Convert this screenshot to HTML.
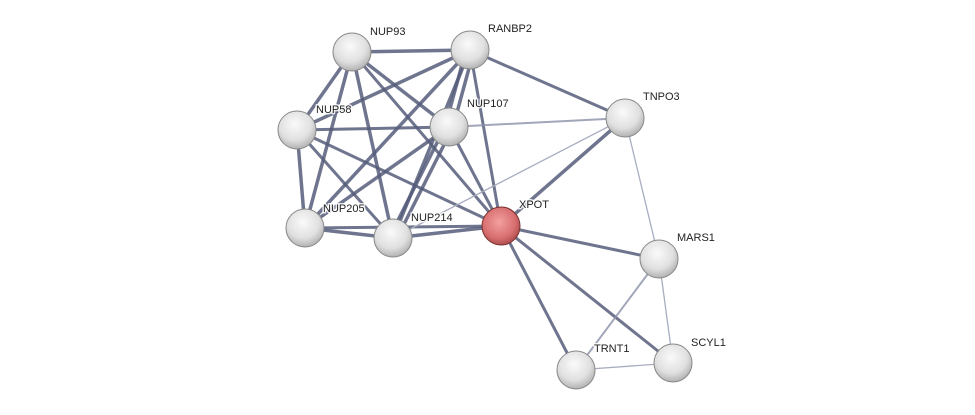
<!DOCTYPE html>
<html><head><meta charset="utf-8"><style>body{margin:0;background:#fff}svg{display:block}text{font-family:"Liberation Sans",sans-serif;font-size:11px;fill:#222;stroke:#fff;stroke-width:3px;stroke-opacity:0.85;paint-order:stroke;stroke-linejoin:round}</style></head><body>
<svg width="975" height="415" viewBox="0 0 975 415" xmlns="http://www.w3.org/2000/svg">
<defs>
<radialGradient id="g" cx="0.45" cy="0.35" r="0.7"><stop offset="0" stop-color="#fafafa"/><stop offset="0.6" stop-color="#e0e0e0"/><stop offset="1" stop-color="#a8a8a8"/></radialGradient>
<radialGradient id="r" cx="0.45" cy="0.4" r="0.7"><stop offset="0" stop-color="#f3a0a0"/><stop offset="0.6" stop-color="#d86f70"/><stop offset="1" stop-color="#9a3c3d"/></radialGradient>
</defs>
<g stroke="#565d7a" stroke-width="3.5" stroke-opacity="0.85" fill="none">
<line x1="352" y1="52" x2="470" y2="50"/>
<line x1="352" y1="52" x2="297" y2="130"/>
<line x1="352" y1="52" x2="305" y2="228"/>
<line x1="352" y1="52" x2="393" y2="238"/>
<line x1="352" y1="52" x2="449" y2="127"/>
<line x1="352" y1="52" x2="501" y2="226" stroke-width="3"/>
<line x1="470" y1="50" x2="297" y2="130"/>
<line x1="466" y1="50" x2="445" y2="127"/>
<line x1="474" y1="50" x2="453" y2="127"/>
<line x1="470" y1="50" x2="393" y2="238"/>
<line x1="470" y1="50" x2="305" y2="228"/>
<line x1="470" y1="50" x2="501" y2="226" stroke-width="3"/>
<line x1="470" y1="50" x2="625" y2="118" stroke-width="3"/>
<line x1="297" y1="130" x2="449" y2="127" stroke-width="3"/>
<line x1="297" y1="130" x2="305" y2="228"/>
<line x1="297" y1="130" x2="393" y2="238" stroke-width="3"/>
<line x1="297" y1="130" x2="501" y2="226" stroke-width="3"/>
<line x1="449" y1="127" x2="305" y2="228"/>
<line x1="445" y1="127" x2="389" y2="238"/>
<line x1="453" y1="127" x2="397" y2="238"/>
<line x1="449" y1="127" x2="501" y2="226" stroke-width="3"/>
<line x1="305" y1="228" x2="393" y2="238"/>
<line x1="305" y1="228" x2="501" y2="226" stroke-width="3"/>
<line x1="393" y1="238" x2="501" y2="226"/>
<line x1="501" y1="226" x2="625" y2="118"/>
<line x1="501" y1="226" x2="659" y2="259" stroke-width="3"/>
<line x1="501" y1="226" x2="576" y2="370" stroke-width="3"/>
<line x1="501" y1="226" x2="673" y2="363" stroke-width="3"/>
</g>
<g stroke="#8a90a8" stroke-width="2" stroke-opacity="0.8">
<line x1="449" y1="127" x2="625" y2="118"/>
<line x1="659" y1="259" x2="576" y2="370"/>
</g>
<g stroke="#a8aec0" stroke-width="1.3">
<line x1="393" y1="238" x2="625" y2="118"/>
<line x1="625" y1="118" x2="659" y2="259"/>
<line x1="659" y1="259" x2="673" y2="363"/>
<line x1="576" y1="370" x2="673" y2="363"/>
</g>
<g stroke="#888" stroke-width="1">
<circle cx="352" cy="52" r="19" fill="url(#g)"/>
<circle cx="470" cy="50" r="19" fill="url(#g)"/>
<circle cx="297" cy="130" r="19" fill="url(#g)"/>
<circle cx="449" cy="127" r="19" fill="url(#g)"/>
<circle cx="625" cy="118" r="19" fill="url(#g)"/>
<circle cx="305" cy="228" r="19" fill="url(#g)"/>
<circle cx="393" cy="238" r="19" fill="url(#g)"/>
<circle cx="501" cy="226" r="19" fill="url(#r)" stroke="#7a3030"/>
<circle cx="659" cy="259" r="19" fill="url(#g)"/>
<circle cx="576" cy="370" r="19" fill="url(#g)"/>
<circle cx="673" cy="363" r="19" fill="url(#g)"/>
</g>
<text x="370" y="35">NUP93</text>
<text x="488" y="32">RANBP2</text>
<text x="316" y="113">NUP58</text>
<text x="467" y="107">NUP107</text>
<text x="643" y="100">TNPO3</text>
<text x="323" y="212">NUP205</text>
<text x="411" y="221">NUP214</text>
<text x="519" y="208">XPOT</text>
<text x="677" y="241">MARS1</text>
<text x="594" y="352">TRNT1</text>
<text x="691" y="346">SCYL1</text>
</svg>
</body></html>
